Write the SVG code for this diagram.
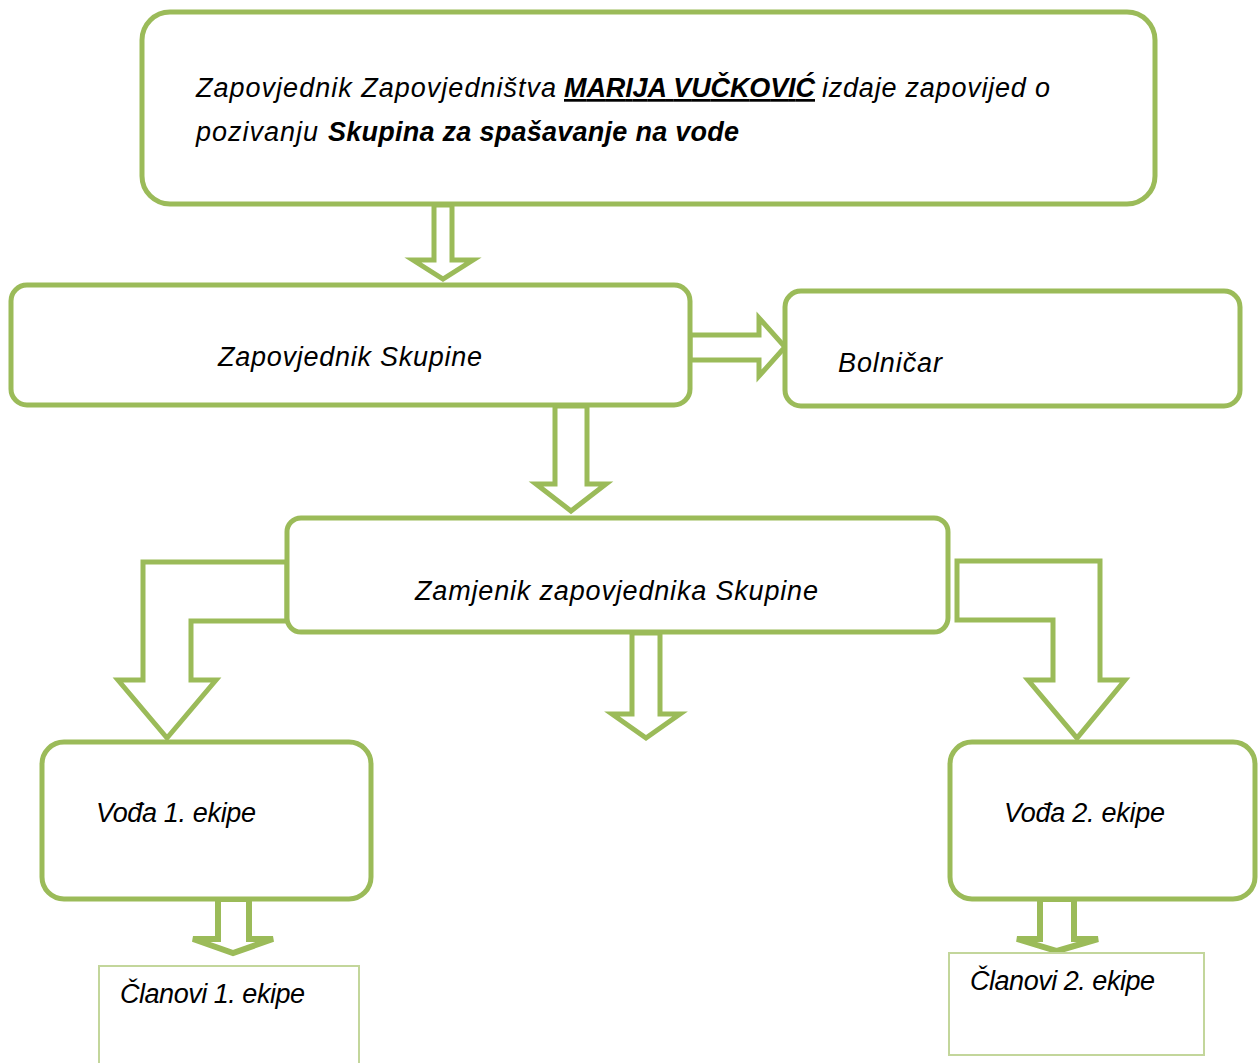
<svg xmlns="http://www.w3.org/2000/svg" width="1259" height="1063" viewBox="0 0 1259 1063">
<style>
.box{fill:#ffffff;stroke:#9BBB59;stroke-width:5}
.thin{fill:#ffffff;stroke:#C3D69B;stroke-width:2}
.arr{fill:#ffffff;stroke:#9BBB59;stroke-width:5;stroke-linejoin:miter}
.arr2{fill:#ffffff;stroke:#9BBB59;stroke-width:6;stroke-linejoin:miter}
.t{font-family:"Liberation Sans",Arial,sans-serif;font-style:italic;font-size:27px;fill:#000000}
.b{font-weight:bold}
</style>
<rect width="1259" height="1063" fill="#ffffff"/>
<g id="connectors">
<polygon class="arr" points="434,205 434,260 413,260 443,279 473,260 452,260 452,205"/>
<polygon class="arr" points="690,335 759,335 759,318 785,347 759,376 759,360 690,360"/>
<polygon class="arr" points="555,406 555,484 536,484 571,511 606,484 587,484 587,406"/>
<polygon class="arr" points="287,562 143,562 143,680 118,680 167,738 216,680 191,680 191,621 287,621"/>
<polygon class="arr" points="957,561 1100,561 1100,680 1125,680 1077,738 1028,680 1053,680 1053,620 957,620"/>
<polygon class="arr" points="632,633 632,714 612,714 646,738 680,714 660,714 660,633"/>
<polygon class="arr2" points="218,899 218,939 193,939 233,953 273,939 249,939 249,899"/>
<polygon class="arr2" points="1040,899 1040,939 1017,939 1057,951 1098,939 1074,939 1074,899"/>
</g>
<g id="node-top">
<rect class="box" x="142" y="12" width="1013" height="192" rx="28"/>
<text class="t" y="97"><tspan x="196" textLength="360">Zapovjednik Zapovjedništva</tspan><tspan x="564" class="b" text-decoration="underline" textLength="251">MARIJA VUČKOVIĆ</tspan><tspan x="822" textLength="228">izdaje zapovijed o</tspan></text>
<text class="t" y="141"><tspan x="196" textLength="122">pozivanju</tspan><tspan x="328" class="b" textLength="411">Skupina za spašavanje na vode</tspan></text>
</g>
<g id="node-zapovjednik">
<rect class="box" x="11" y="285" width="679" height="120" rx="16"/>
<text class="t" x="218" y="366" textLength="264">Zapovjednik Skupine</text>
</g>
<g id="node-bolnicar">
<rect class="box" x="785" y="291" width="455" height="115" rx="16"/>
<text class="t" x="838" y="372" textLength="104">Bolničar</text>
</g>
<g id="node-zamjenik">
<rect class="box" x="287" y="518" width="661" height="114" rx="14"/>
<text class="t" x="415" y="600" textLength="403">Zamjenik zapovjednika Skupine</text>
</g>
<g id="node-voda1">
<rect class="box" x="42" y="742" width="329" height="157" rx="22"/>
<text class="t" x="96" y="822" textLength="160">Vođa 1. ekipe</text>
</g>
<g id="node-voda2">
<rect class="box" x="950" y="742" width="305" height="157" rx="22"/>
<text class="t" x="1004" y="822" textLength="161">Vođa 2. ekipe</text>
</g>
<g id="node-clanovi1">
<rect class="thin" x="99" y="966" width="260" height="110"/>
<text class="t" x="120" y="1003" textLength="185">Članovi 1. ekipe</text>
</g>
<g id="node-clanovi2">
<rect class="thin" x="949" y="953" width="255" height="102"/>
<text class="t" x="970" y="990" textLength="185">Članovi 2. ekipe</text>
</g>
</svg>
